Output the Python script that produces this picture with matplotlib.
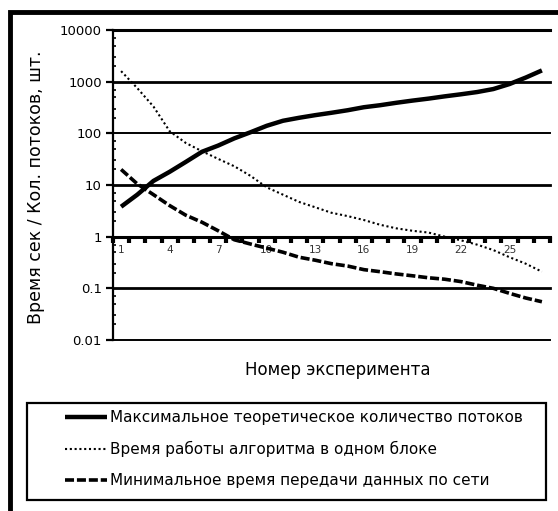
import matplotlib as mpl
mpl.use("Agg")
import matplotlib.pyplot as plt
from matplotlib.patches import Rectangle
from matplotlib.ticker import FixedLocator, NullFormatter, LogLocator

plt.rcParams["font.family"] = ["DejaVu Sans"]

# experiment numbers (category axis)
experiments = list(range(1, 28))
# values
max_threads = [3.8, 6.5, 12, 18, 28, 44, 58, 80, 105, 140, 175, 200, 225, 250,
               280, 320, 350, 390, 430, 470, 520, 570, 630, 720, 900, 1200, 1650]
algo_time = [1600, 750, 330, 110, 65, 45, 32, 23, 15, 9, 6.5, 4.7, 3.7, 2.9,
             2.5, 2.1, 1.7, 1.45, 1.3, 1.2, 1.0, 0.85, 0.7, 0.55, 0.4, 0.3, 0.21]
net_time = [20, 10.5, 6.5, 4.0, 2.6, 1.9, 1.3, 0.87, 0.72, 0.6, 0.5, 0.4, 0.35,
            0.3, 0.27, 0.23, 0.21, 0.19, 0.175, 0.16, 0.15, 0.135, 0.115, 0.1,
            0.08, 0.065, 0.055]
labels = [
    "Максимальное теоретическое количество потоков",
    "Время работы алгоритма в одном блоке",
    "Минимальное время передачи данных по сети",
]
y_ticks = [0.01, 0.1, 1, 10, 100, 1000, 10000]
y_ticklabels = ["0.01", "0.1", "1", "10", "100", "1000", "10000"]

W, H = 558, 511
fig = plt.figure(figsize=(W / 100, H / 100), dpi=100)
ax = fig.add_axes([113 / W, 1 - 340 / H, (550 - 113) / W, (340 - 30) / H])

l1, = ax.plot(experiments, max_threads, color="black", lw=3.2, solid_capstyle="butt")
l2, = ax.plot(experiments, algo_time, color="black", lw=1.5, linestyle=(0, (1, 1.3)))
l3, = ax.plot(experiments, net_time, color="black", lw=2.6, linestyle=(0, (2.5, 0.8)))

ax.set_yscale("log")
ax.set_ylim(0.01, 10000)
ax.set_xlim(0.5, 27.5)

# horizontal gridlines
for v, w in zip(y_ticks, [1.4, 2.0, 0, 2.0, 1.4, 2.0, 2.2]):
    if w:
        ax.axhline(v, color="black", lw=w, zorder=1, clip_on=False)

for s in ["top", "right"]:
    ax.spines[s].set_visible(False)
ax.spines["left"].set_linewidth(1.6)
ax.spines["bottom"].set_position(("data", 1))
ax.spines["bottom"].set_linewidth(2.2)

ax.set_yticks(y_ticks)
ax.set_yticklabels(y_ticklabels)
ax.yaxis.set_minor_locator(LogLocator(base=10, subs=[2, 3, 5, 7]))
ax.yaxis.set_minor_formatter(NullFormatter())
ax.tick_params(axis="y", which="major", direction="out", length=5, width=1.6,
               labelsize=9.5, pad=3, colors="black")
ax.tick_params(axis="y", which="minor", direction="in", length=2.5, width=1.2)

# category boundaries as ticks, labels every third experiment
ax.xaxis.set_major_locator(FixedLocator([i + 0.5 for i in range(0, 28)]))
ax.xaxis.set_major_formatter(NullFormatter())
ax.xaxis.set_minor_locator(FixedLocator(experiments[::3]))
ax.set_xticklabels([str(e) for e in experiments[::3]], minor=True)
ax.tick_params(axis="x", which="major", direction="out", length=4, width=3)
ax.tick_params(axis="x", which="minor", length=0, labelsize=7.5, pad=6,
               labelcolor="#333333")

ax.set_xlabel("Номер эксперимента", fontsize=12)
ax.xaxis.set_label_coords(0.515, -0.097)
ax.xaxis.label.set_va("center")
ax.set_ylabel("Время сек / Кол. потоков, шт.", fontsize=12.5)
ax.yaxis.set_label_coords(-0.176, 0.494)
ax.yaxis.label.set_va("center")

# outer frame
fig.patches.append(Rectangle((10 / W, -0.05), 1.2, 1 - 12 / H + 0.05,
                             transform=fig.transFigure, fill=False,
                             edgecolor="black", lw=3.5))
# legend box
fig.patches.append(Rectangle((27 / W, 1 - 500 / H), (546 - 27) / W, (500 - 403) / H,
                             transform=fig.transFigure, fill=False,
                             edgecolor="black", lw=1.6))
fig.legend([l1, l2, l3], labels, loc="upper left",
           bbox_to_anchor=(65 / W, 1 - 410 / H), frameon=False, fontsize=11,
           borderpad=0, borderaxespad=0, handlelength=2.75, handletextpad=0.2,
           labelspacing=1.05)

fig.savefig("out.png", dpi=100)
